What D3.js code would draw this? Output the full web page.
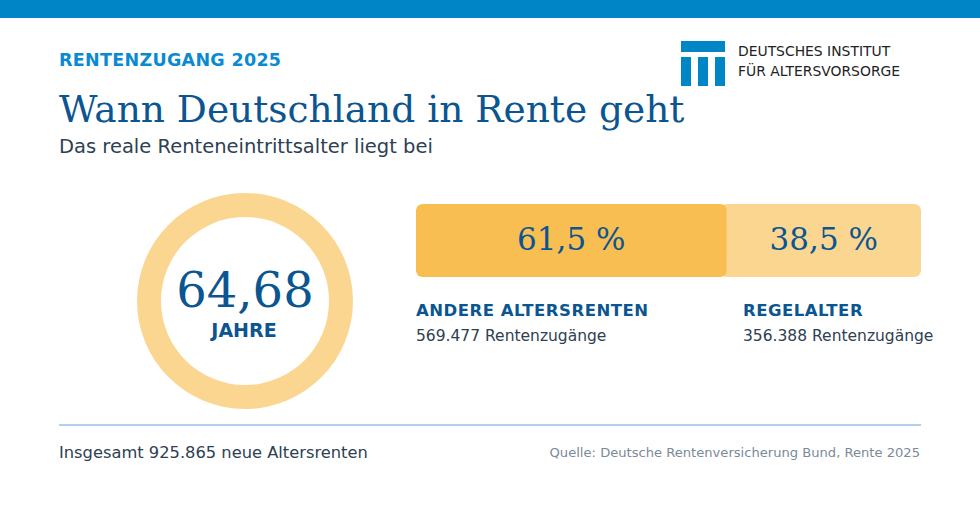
<!DOCTYPE html>
<html><head><meta charset="utf-8">
<script src="https://cdn.jsdelivr.net/npm/d3@7"></script>
<style>body{margin:0;background:#fff;}svg{display:block;}</style>
</head><body>
<svg id="c" width="980" height="512"></svg>
<script>
const kicker = "RENTENZUGANG 2025";
const title = "Wann Deutschland in Rente geht";
const subtitle = "Das reale Renteneintrittsalter liegt bei";
const ageValue = "64,68";
const ageUnit = "JAHRE";
const categories = ["ANDERE ALTERSRENTEN", "REGELALTER"];
const shares = [61.5, 38.5];
const counts = ["569.477", "356.388"];
const totalText = "Insgesamt 925.865 neue Altersrenten";
const sourceText = "Quelle: Deutsche Rentenversicherung Bund, Rente 2025";
const logoLines = ["DEUTSCHES INSTITUT", "FÜR ALTERSVORSORGE"];

const svg = d3.select("#c");
const SANS = "'DejaVu Sans', sans-serif";
const SERIF = "'DejaVu Serif', serif";
const navy = "#0b5591";
const txt = "#2e4052";
const segColors = ["#f9be51", "#fbd690"];

svg.append("rect").attr("x",0).attr("y",0).attr("width",980).attr("height",18).attr("fill","#0085c7");

svg.append("text").attr("x",59).attr("y",66).attr("font-family",SANS).attr("font-weight","bold")
  .attr("font-size",17.5).attr("fill","#0a8ad0").attr("letter-spacing",0.3).text(kicker);
svg.append("text").attr("x",59).attr("y",122).attr("font-family",SERIF)
  .attr("font-size",37.5).attr("fill",navy).text(title);
svg.append("text").attr("x",59).attr("y",153).attr("font-family",SANS)
  .attr("font-size",19.5).attr("fill",txt).text(subtitle);

// logo
const lg = svg.append("g").attr("fill","#0085c7");
lg.append("rect").attr("x",681).attr("y",41).attr("width",44).attr("height",11);
[681,698,715].forEach(x=>lg.append("rect").attr("x",x).attr("y",57).attr("width",10).attr("height",29));
logoLines.forEach((t,i)=>svg.append("text").attr("x",738).attr("y",56+i*20).attr("font-family",SANS)
  .attr("font-size",13.9).attr("fill","#222").text(t));

// ring
const ring = d3.arc().innerRadius(84).outerRadius(108).startAngle(0).endAngle(2*Math.PI);
svg.append("path").attr("d",ring()).attr("transform","translate(245,301)").attr("fill","#fbd690");
svg.append("text").attr("x",245).attr("y",307).attr("text-anchor","middle").attr("font-family",SERIF)
  .attr("font-size",48).attr("fill",navy).text(ageValue);
svg.append("text").attr("x",244).attr("y",337).attr("text-anchor","middle").attr("font-family",SANS)
  .attr("font-weight","bold").attr("font-size",19).attr("fill",navy).text(ageUnit);

// stacked bar
const x = d3.scaleLinear().domain([0,100]).range([416,921]);
let cum = 0;
const segs = shares.map((v,i)=>{const s={i,v,x0:cum,x1:cum+v};cum+=v;return s;});
const by=204, bh=73;
svg.append("clipPath").attr("id","bclip").append("rect").attr("x",x(0)).attr("y",by)
  .attr("width",x(100)-x(0)).attr("height",bh).attr("rx",6);
const bg = svg.append("g").attr("clip-path","url(#bclip)");
bg.selectAll("rect.seg").data(segs.slice().reverse()).join("rect").attr("class","seg")
  .attr("x",d=>d.i===0?x(d.x0):x(d.x0)-6).attr("y",by)
  .attr("width",d=>d.i===0?x(d.x1)-x(d.x0):x(d.x1)-x(d.x0)+6).attr("height",bh)
  .attr("rx",6).attr("fill",d=>segColors[d.i]);
svg.selectAll("text.pct").data(segs).join("text").attr("class","pct")
  .attr("x",d=>(x(d.x0)+x(d.x1))/2).attr("y",250).attr("text-anchor","middle")
  .attr("font-family",SERIF).attr("font-size",31).attr("fill",navy)
  .text(d=>d3.format(".1f")(d.v).replace(".",",")+" %");

const labelX = [x(0), 743];
categories.forEach((c,i)=>{
  svg.append("text").attr("x",labelX[i]).attr("y",316).attr("font-family",SANS).attr("font-weight","bold")
    .attr("font-size",16.5).attr("fill",navy).attr("letter-spacing",0.5).text(c);
  svg.append("text").attr("x",labelX[i]).attr("y",341).attr("font-family",SANS)
    .attr("font-size",15.5).attr("fill",txt).text(counts[i]+" Rentenzugänge");
});

svg.append("line").attr("x1",59).attr("x2",921).attr("y1",425).attr("y2",425)
  .attr("stroke","#9fbde8").attr("stroke-width",1.5);
svg.append("text").attr("x",59).attr("y",458).attr("font-family",SANS).attr("font-size",16.3)
  .attr("fill",txt).text(totalText);
svg.append("text").attr("x",920).attr("y",457).attr("text-anchor","end").attr("font-family",SANS)
  .attr("font-size",13.1).attr("fill","#7a8a99").text(sourceText);
</script>
</body></html>
